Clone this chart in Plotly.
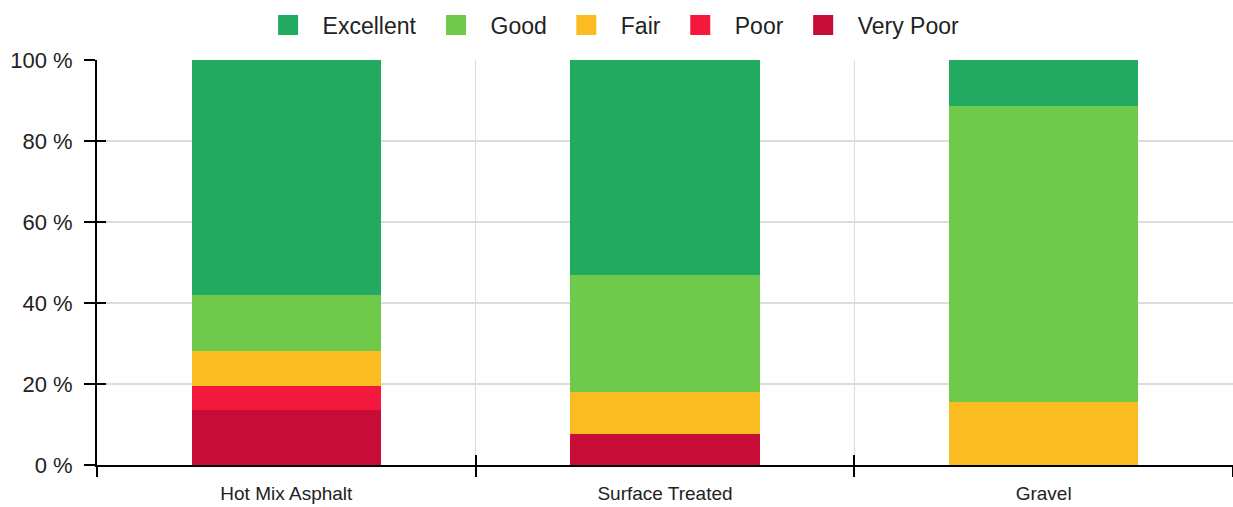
import plotly.graph_objects as go

# Pavement condition share by surface type (percent of network)
surface_types = ["Hot Mix Asphalt", "Surface Treated", "Gravel"]
condition_names = ["Excellent", "Good", "Fair", "Poor", "Very Poor"]
condition_colors = ["#22aa61", "#6fc94b", "#fbbc21", "#f3193d", "#c70c37"]

excellent = [58.0, 53.1, 11.4]
good = [13.9, 28.9, 73.1]
fair = [8.6, 10.3, 15.5]
poor = [5.9, 0.0, 0.0]
very_poor = [13.6, 7.7, 0.0]

y_ticks = [0, 20, 40, 60, 80, 100]
y_tick_text = ["0 %", "20 %", "40 %", "60 %", "80 %", "100 %"]
x_boundaries = [-0.5, 0.5, 1.5, 2.5]

series = dict(zip(condition_names, [excellent, good, fair, poor, very_poor]))
colors = dict(zip(condition_names, condition_colors))

FONT = "Liberation Sans, Arial, sans-serif"

fig = go.Figure()

# stacked bars, worst condition at the bottom
for name in reversed(condition_names):
    fig.add_trace(go.Bar(
        x=surface_types, y=series[name], name=name,
        marker=dict(color=colors[name], line=dict(width=0)),
        showlegend=False, hoverinfo="x+y+name",
    ))

# legend entries with larger square swatches (they live on the overlay axes,
# which also keeps those axes rendered)
for name in condition_names:
    fig.add_trace(go.Scatter(
        x=[None], y=[None], mode="markers", name=name,
        xaxis="x2", yaxis="y2",
        marker=dict(symbol="square", size=16, color=colors[name],
                    line=dict(width=4, color=colors[name])),
        showlegend=True,
    ))

fig.update_layout(
    width=1233, height=507,
    margin=dict(l=97, r=0, t=60, b=42),
    paper_bgcolor="white", plot_bgcolor="white",
    barmode="stack", bargap=0.5,
    font=dict(family=FONT, color="#222222"),
    legend=dict(
        orientation="h", xref="container", yref="container",
        x=0.494, xanchor="center", y=0.993, yanchor="top",
        font=dict(size=23, color="#222222"),
        itemwidth=59, traceorder="normal",
        bgcolor="rgba(0,0,0,0)",
    ),
    xaxis=dict(
        type="category", categoryorder="array", categoryarray=surface_types,
        range=[-0.5, 2.5],
        tickson="boundaries", ticks="outside", ticklen=10, tickwidth=2,
        tickcolor="black",
        showgrid=True, gridcolor="#dcdcdc", gridwidth=1,
        showline=True, linecolor="black", linewidth=2,
        tickfont=dict(size=19, color="#222222"),
        ticklabelstandoff=10,
        zeroline=False,
    ),
    yaxis=dict(
        range=[0, 100], tickmode="array", tickvals=y_ticks, ticktext=y_tick_text,
        ticks="outside", ticklen=11, tickwidth=2, tickcolor="black",
        showgrid=True, gridcolor="#dcdcdc", gridwidth=2,
        showline=True, linecolor="black", linewidth=2,
        tickfont=dict(size=22, color="#222222"),
        ticklabelstandoff=7,
        zeroline=False,
    ),
    # companion axes draw the inner half of the crossing tick marks
    xaxis2=dict(
        overlaying="x", anchor="y2", range=[-0.5, 2.5],
        tickmode="array", tickvals=x_boundaries,
        ticks="inside", ticklen=10, tickwidth=2, tickcolor="black",
        showticklabels=False, showgrid=False, showline=False,
        zeroline=False, side="bottom",
    ),
    yaxis2=dict(
        overlaying="y", anchor="x2", range=[0, 100],
        tickmode="array", tickvals=y_ticks,
        ticks="inside", ticklen=9, tickwidth=2, tickcolor="black",
        showticklabels=False, showgrid=False, showline=False,
        zeroline=False, side="left",
    ),
)

fig.write_html("out.html")
